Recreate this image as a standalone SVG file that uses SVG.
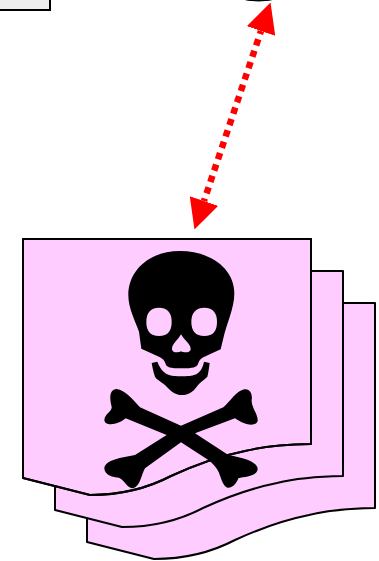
<svg xmlns="http://www.w3.org/2000/svg" width="379" height="561" viewBox="0 0 379 561">
<style>
.doc{fill:#ffccff;stroke:#000;stroke-width:2;stroke-linejoin:round}
.ink{fill:#000;stroke:none}
.hole{fill:#ffccff;stroke:none}
</style>
<defs>
<path id="sheet" d="M23 239H311V444C285 444.500 265 446 245 451C220 456 195 465 171 476C150 487 125 495 90 495L23 478Z"/>
<marker id="head" markerUnits="userSpaceOnUse" viewBox="0 0 30 30" refX="0" refY="15" markerWidth="30" markerHeight="30" orient="auto-start-reverse"><path d="M0 0L30 15L0 30Z" fill="#f00"/></marker>
</defs>
<g id="box-top-left"><rect x="-10" y="-10" width="60" height="20" fill="#eeeeee" stroke="#000" stroke-width="2"/></g>
<g id="node-top"><path d="M238 -2Q258 4 280 -2Z" fill="#000" stroke="#000" stroke-width="1"/></g>
<g id="doc-stack">
<use href="#sheet" class="doc" x="64" y="64"/>
<use href="#sheet" class="doc" x="32" y="32"/>
<use href="#sheet" class="doc"/>
</g>
<g id="skull-crossbones">
<g transform="translate(100 240) scale(.33333)">
<path class="ink" d="M240 33C150 33 85 90 85 165C85 205 105 240 117 275L124 326L180 352C188 356 194 362 197 372C200 382 210 385 245 385C280 385 290 382 294 372C297 362 302 356 310 352L362 328L370 295C380 250 403 205 403 160C403 85 330 33 240 33Z"/>
<path class="hole" d="M177 203C150 203 139 220 139 245C139 272 150 288 177 288C204 288 215 272 215 245C215 220 204 203 177 203Z"/>
<path class="hole" d="M313 203C286 203 274 220 274 245C274 272 286 288 313 288C340 288 351 272 351 245C351 220 340 203 313 203Z"/>
<path class="hole" d="M243 283C234 300 216 312 216 326C216 340 235 338 243 334C251 338 272 340 272 326C272 312 252 300 243 283Z"/>
<path class="ink" d="M155 369L172 365C180 385 190 398 205 404C220 410 270 410 285 404C300 398 308 385 312 365L329 369C327 385 325 400 322 410C312 420 298 428 290 440C280 455 265 465 245 465C225 465 212 452 200 440C190 428 170 420 165 410C160 395 158 385 155 369Z"/>
</g>
<path class="ink" transform="translate(95 380) scale(.33333)" d="M258 137L385 82C405 65 425 32 448 28C465 25 473 42 470 60C468 80 490 105 488 122C485 138 455 140 420 115L300 160L400 225C440 232 490 245 488 268C485 290 450 290 430 295C425 310 412 325 398 323C385 320 378 295 372 278C365 262 350 248 340 240L258 187L150 265C138 285 138 315 115 325C95 325 90 300 72 293C55 293 28 285 28 265C30 240 80 232 120 225L215 165L92 115C70 135 30 140 28 120C30 100 52 95 50 80C42 50 45 28 65 27C90 30 115 60 135 82Z"/>
</g>
<g id="front-outline"><use href="#sheet" fill="none" stroke="#000" stroke-width="2" stroke-linejoin="round"/></g>
<g id="connectors">
<line x1="261" y1="31" x2="204" y2="201" stroke="#f00" stroke-width="6.500" stroke-dasharray="6.500 5.500" stroke-dashoffset="3.250" marker-start="url(#head)" marker-end="url(#head)"/>
</g>
</svg>
